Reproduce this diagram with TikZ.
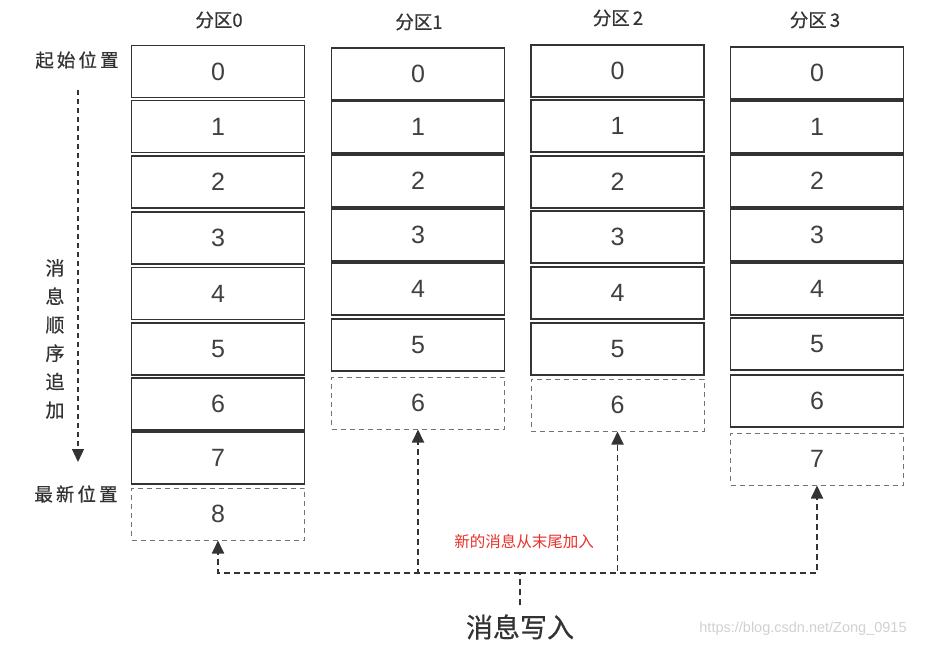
\documentclass[tikz,border=0pt]{standalone}
\usepackage{fontspec}
\setmainfont{Liberation Sans}
\newfontfamily\cjk[FakeBold=0.5]{Noto Sans CJK SC}
\newfontfamily\cjkred{Noto Sans CJK SC}
\usetikzlibrary{arrows.meta}
\definecolor{ink}{HTML}{333333}
\definecolor{redtxt}{HTML}{E8302A}
\begin{document}
\begin{tikzpicture}[x=1pt,y=-1pt,
  cell/.style={draw=ink, line width=1.6pt, minimum width=173pt, minimum height=52pt, inner sep=0pt,
    font=\fontsize{25}{25}\selectfont, text=black!75},
  newcell/.style={cell, draw=black!55, line width=1pt, dash pattern=on 5pt off 4pt},
  lbl/.style={font=\cjk\fontsize{18.5}{18.5}\selectfont, text=ink, inner sep=0pt},
  conn/.style={draw=ink, line width=1.8pt, dash pattern=on 6pt off 4pt,
    -{Triangle[length=13pt,width=12pt]}},
  plain/.style={draw=ink, line width=1.8pt, dash pattern=on 6pt off 4pt}
]
\useasboundingbox (0,0) rectangle (926,648);
\fill[white] (0,0) rectangle (926,648);

% partition 0
\foreach [count=\i from 0] \y in {71.5,126.5,182,238,293.5,349,404,458}
  \node[cell] (p0b\i) at (218,\y) {\i};
\node[newcell] (p0b8) at (218,514) {8};
% partition 1
\foreach [count=\i from 0] \y in {74,127,181,235,289,345}
  \node[cell] (p1b\i) at (418,\y) {\i};
\node[newcell] (p1b6) at (418,403) {6};
% partition 2
\foreach [count=\i from 0] \y in {71,126,182,237,293,349}
  \node[cell] (p2b\i) at (617.5,\y) {\i};
\node[newcell] (p2b6) at (617.5,405) {6};
% partition 3
\foreach [count=\i from 0] \y in {73,127,181,235,289,344,401}
  \node[cell] (p3b\i) at (817,\y) {\i};
\node[newcell] (p3b7) at (817,459) {7};

% headers
\node[lbl] (h0) at (219,20) {分区0};
\node[lbl] (h1) at (419,22) {分区1};
\node[lbl] (h2) at (618,18) {分区\,2};
\node[lbl] (h3) at (815,20) {分区\,3};

% left side
\node[lbl] (start) at (77,60) {起\,始\,位\,置};
\node[lbl] (latest) at (76,494) {最\,新\,位\,置};
\node[lbl, align=center, font=\cjk\fontsize{19}{28.4}\selectfont] (order) at (55,339)
  {消\\息\\顺\\序\\追\\加};
\coordinate (a1) at (78,90);
\coordinate (a2) at (78,462);
\draw[draw=ink, line width=1.3pt, dash pattern=on 5pt off 4pt,
  -{Triangle[length=13pt,width=12pt]}] (a1) -- (a2);

% bottom
\node[font=\cjk\fontsize{27}{27}\selectfont, text=ink, inner sep=0pt] (write) at (520,627) {消息写入};
\coordinate (j) at (520,573);
\draw[plain] (write.north) ++(0,-9) coordinate (ws) (ws) -- (j);
\draw[conn] (j) -| (p0b8.south);
\draw[conn] (j) -| (p1b6.south);
\draw[conn] (j) -| (p2b6.south);
\draw[conn] (j) -| (p3b7.south);

\node[font=\cjkred\fontsize{15.5}{15.5}\selectfont, text=redtxt, inner sep=0pt] (note) at (524,542) {新的消息从末尾加入};
\node[font=\fontsize{14.5}{14.5}\selectfont, text=black!18, inner sep=0pt] (wm) at (803,629) {https://blog.csdn.net/Zong\_0915};
\end{tikzpicture}
\end{document}
